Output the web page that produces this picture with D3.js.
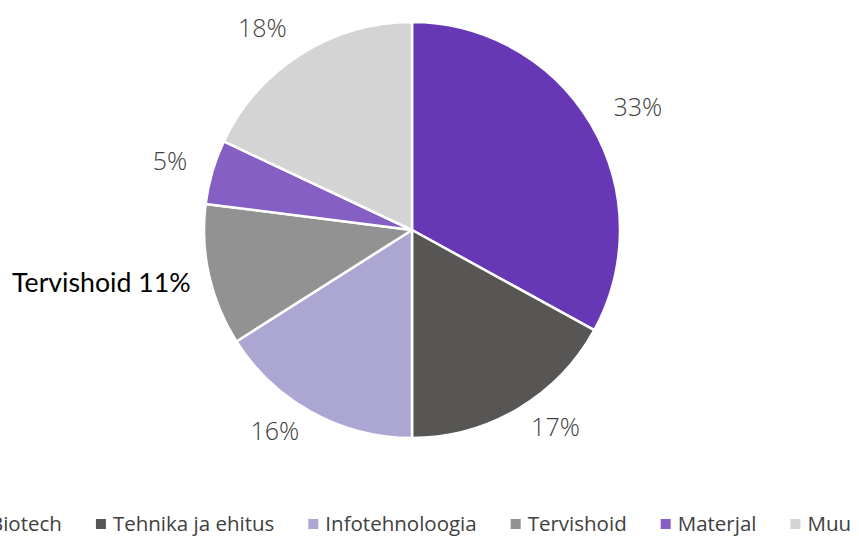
<!DOCTYPE html>
<html>
<head>
<meta charset="utf-8">
<script src="https://cdn.jsdelivr.net/npm/d3@7"></script>
<style>
  body { margin: 0; background: #fff; }
  svg { display: block; }
</style>
</head>
<body>
<svg id="chart" width="859" height="536"></svg>
<script>
// data
const categories = ['Biotech', 'Tehnika ja ehitus', 'Infotehnoloogia', 'Tervishoid', 'Materjal', 'Muu'];
const shares = [33, 17, 16, 11, 5, 18];
const colors = ['#6638b6', '#575655', '#aca6d3', '#929292', '#855fc4', '#d4d4d4'];

const svg = d3.select('#chart');
const cx = 412, cy = 230, radius = 208;

const slices = categories.map((c, i) => ({ name: c, value: shares[i], color: colors[i] }));

const pie = d3.pie().value(d => d.value).sort(null);
const arc = d3.arc().innerRadius(0).outerRadius(radius);
const labelArc = d3.arc().innerRadius(234).outerRadius(234);

const g = svg.append('g').attr('transform', `translate(${cx},${cy})`);
const arcs = pie(slices);

g.selectAll('path')
  .data(arcs)
  .join('path')
  .attr('d', arc)
  .attr('fill', d => d.data.color)
  .attr('stroke', '#fff')
  .attr('stroke-width', 2.5)
  .attr('stroke-linejoin', 'round');

// labels outside the pie; Tervishoid has its own highlighted label
const isHi = d => d.data.name === 'Tervishoid';
g.selectAll('text.lbl')
  .data(arcs)
  .join('text')
  .attr('class', 'lbl')
  .attr('transform', d => `translate(${labelArc.centroid(d)})`)
  .attr('text-anchor', d => (d.startAngle + d.endAngle) / 2 < Math.PI ? 'start' : 'end')
  .attr('dx', d => isHi(d) ? 7 : 0)
  .attr('dy', d => isHi(d) ? '0.42em' : '0.2em')
  .style('font-family', d => isHi(d) ? 'Lato, sans-serif' : '"Open Sans", sans-serif')
  .style('font-weight', d => isHi(d) ? 400 : 300)
  .style('font-size', d => isHi(d) ? '26.7px' : '25px')
  .attr('fill', d => isHi(d) ? '#000' : '#404040')
  .text(d => isHi(d) ? `${d.data.name} ${d.data.value}%` : `${d.data.value}%`);

// legend (runs past both edges, as in the original)
const legend = svg.append('g').attr('transform', 'translate(0,524)');
const items = legend.selectAll('g')
  .data(slices)
  .join('g');
items.append('rect')
  .attr('width', 10).attr('height', 10)
  .attr('y', -5)
  .attr('fill', d => d.color);
items.append('text')
  .attr('x', 17)
  .attr('dy', '0.35em')
  .style('font-family', '"Open Sans", sans-serif')
  .style('font-size', '20.5px')
  .attr('fill', '#404040')
  .text(d => d.name);

const widths = [];
items.each(function() { widths.push(17 + this.querySelector('text').getComputedTextLength()); });
const gap = 34;
const total = d3.sum(widths) + gap * (widths.length - 1);
let x = 412 - total / 2;
items.attr('transform', (d, i) => {
  const t = `translate(${x},0)`;
  x += widths[i] + gap;
  return t;
});
</script>
</body>
</html>
